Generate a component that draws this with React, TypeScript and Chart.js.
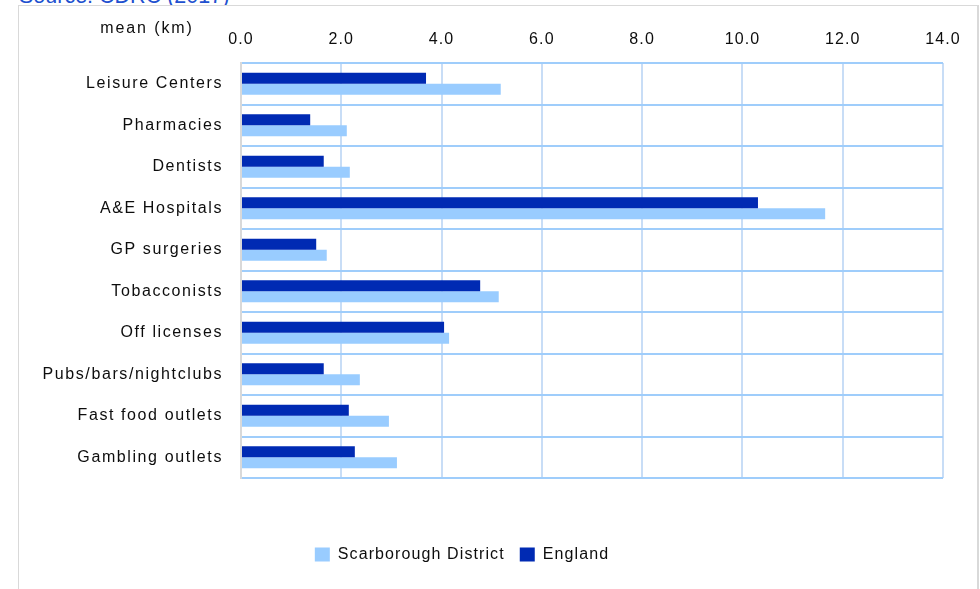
import React, { useEffect, useRef } from 'react';
import { Chart, registerables } from 'chart.js';

Chart.register(...registerables);

const categories = [
  'Leisure Centers',
  'Pharmacies',
  'Dentists',
  'A&E Hospitals',
  'GP surgeries',
  'Tobacconists',
  'Off licenses',
  'Pubs/bars/nightclubs',
  'Fast food outlets',
  'Gambling outlets',
];
const englandValues = [3.69, 1.38, 1.65, 10.31, 1.5, 4.77, 4.05, 1.65, 2.15, 2.27];
const scarboroughValues = [5.18, 2.11, 2.17, 11.65, 1.71, 5.14, 4.15, 2.37, 2.95, 3.11];
const seriesNames = ['England', 'Scarborough District'];
const axisMin = 0;
const axisMax = 14;
const axisStep = 2;
const axisTitle = 'mean (km)';
const sourceText = 'Source: CDRC (2017)';

const FONT = "'Liberation Sans', Arial, sans-serif";
const TEXT = '#0D0D0D';

export default function App() {
  const ref = useRef<HTMLCanvasElement>(null);

  useEffect(() => {
    const canvas = ref.current;
    if (!canvas) return;

    const tweak = {
      id: 'tweak',
      beforeLayout(c: any) {
        c.ctx.letterSpacing = '1.1px';
      },
      afterLayout(c: any) {
        const lg = c.legend;
        if (lg) {
          const h = lg.height;
          lg.top = 525.5;
          lg.bottom = lg.top + h;
          lg.left = -36;
          lg.right = 922;
        }
      },
      beforeDraw(c: any) {
        c.ctx.letterSpacing = '1.1px';
        const y = c.scales.y;
        if (y && !y.__patched) {
          const orig = y.drawLabels.bind(y);
          y.drawLabels = (area: any) => {
            const cx = c.ctx;
            cx.save();
            cx.letterSpacing = '1.6px';
            orig(area);
            cx.restore();
          };
          y.__patched = true;
        }
      },
      afterDraw(c: any) {
        const cx = c.ctx;
        cx.save();
        cx.letterSpacing = '1.9px';
        cx.font = `16px ${FONT}`;
        cx.fillStyle = TEXT;
        cx.textAlign = 'center';
        cx.textBaseline = 'middle';
        cx.fillText(axisTitle, 128, 23);
        cx.restore();
      },
    };

    const chart = new Chart(canvas, {
      type: 'bar',
      data: {
        labels: categories,
        datasets: [
          {
            label: seriesNames[0],
            data: englandValues,
            backgroundColor: '#002AB3',
            borderWidth: 0,
            categoryPercentage: 0.53,
            barPercentage: 1,
          },
          {
            label: seriesNames[1],
            data: scarboroughValues,
            backgroundColor: '#99CCFF',
            borderWidth: 0,
            categoryPercentage: 0.53,
            barPercentage: 1,
          },
        ],
      },
      options: {
        indexAxis: 'y',
        responsive: false,
        animation: false,
        layout: { padding: { top: 0, left: 0, right: 34, bottom: 70 } },
        scales: {
          x: {
            position: 'top',
            min: axisMin,
            max: axisMax,
            ticks: {
              stepSize: axisStep,
              padding: 14,
              color: TEXT,
              font: { family: FONT, size: 16 },
              maxRotation: 0,
              autoSkip: false,
              callback: (v: any) => Number(v).toFixed(1),
            },
            grid: { color: '#C8DDF6', lineWidth: 2, drawTicks: false },
            border: { display: false },
            afterFit: (s: any) => {
              s.height = 57;
            },
          },
          y: {
            ticks: {
              padding: 18,
              color: TEXT,
              font: { family: FONT, size: 16 },
              autoSkip: false,
            },
            grid: { offset: true, color: '#9FCDFB', lineWidth: 2, drawTicks: false },
            border: { display: true, color: '#D9D9D9', width: 2 },
            afterFit: (s: any) => {
              s.width = 222;
            },
          },
        },
        plugins: {
          legend: {
            position: 'bottom',
            reverse: true,
            labels: {
              boxWidth: 15,
              boxHeight: 14,
              padding: 15,
              color: TEXT,
              font: { family: FONT, size: 16 },
            },
          },
          tooltip: { enabled: false },
        },
      },
      plugins: [tweak],
    } as any);

    return () => {
      chart.destroy();
    };
  }, []);

  return (
    <div style={{ position: 'relative', width: 980, height: 589, overflow: 'hidden', background: '#FFFFFF' }}>
      <style>{'html,body{margin:0;padding:0;background:#fff;}'}</style>
      <div
        style={{
          position: 'absolute',
          left: 19,
          top: -14,
          fontFamily: FONT,
          fontSize: '21.5px',
          lineHeight: '21.5px',
          color: '#2150CF',
          whiteSpace: 'nowrap',
        }}
      >
        {sourceText}
      </div>
      <div
        style={{
          position: 'absolute',
          left: 18,
          top: 5,
          width: 958,
          height: 600,
          borderLeft: '1px solid #D9D9D9',
          borderTop: '1px solid #D9D9D9',
          borderRight: '2px solid #D9D9D9',
          background: '#FFFFFF',
        }}
      >
        <canvas
          ref={ref}
          width={958}
          height={583}
          style={{ display: 'block', width: 958, height: 583 }}
        />
      </div>
    </div>
  );
}
